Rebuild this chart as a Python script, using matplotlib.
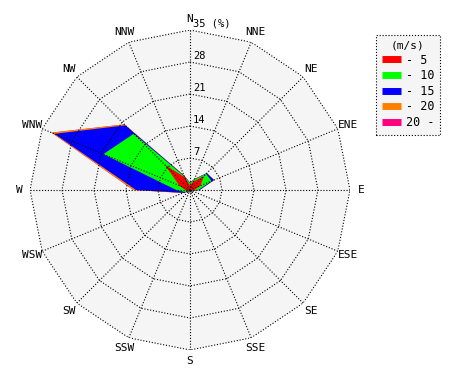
import numpy as np
import matplotlib
matplotlib.use('Agg')
import matplotlib.pyplot as plt
from matplotlib.lines import Line2D

# wind directions (clockwise from north)
directions = ["N", "NNE", "NE", "ENE", "E", "ESE", "SE", "SSE",
              "S", "SSW", "SW", "WSW", "W", "WNW", "NW", "NNW"]

# frequency (%) per speed class and direction
freq_0_5   = [1.0, 2.0, 4.3, 2.5, 1.0, 0.4, 0.3, 0.3, 0.3, 0.3, 0.3, 0.5, 1.0, 2.5, 7.8, 3.0]
freq_5_10  = [0.5, 0.5, 0.7, 2.6, 0.8, 0.1, 0.1, 0.1, 0.1, 0.1, 0.1, 0.7, 2.0, 18.0, 9.6, 0.2]
freq_10_15 = [0.1, 0.1, 0.2, 0.6, 0.3, 0.1, 0.1, 0.1, 0.1, 0.1, 0.1, 0.4, 8.8, 11.6, 2.6, 0.2]
freq_15_20 = [0.0, 0.0, 0.0, 0.0, 0.0, 0.0, 0.0, 0.0, 0.0, 0.0, 0.0, 0.1, 0.6, 0.7, 0.3, 0.1]
freq_20_up = [0.0] * 16

class_labels = ["- 5", "- 10", "- 15", "- 20", "20 -"]
class_colors = ["#ff0000", "#00ff00", "#0000ff", "#ff8000", "#ff0080"]
rings = [7, 14, 21, 28, 35]
rmax = 35

cum = np.cumsum(np.array([freq_0_5, freq_5_10, freq_10_15, freq_15_20, freq_20_up]), axis=0)

theta = np.deg2rad(np.arange(len(directions)) * 22.5)
theta_c = np.append(theta, theta[0])

fig = plt.figure(figsize=(4.7, 3.8), dpi=100)
ax = fig.add_axes([30 / 470, 30 / 380, 320 / 470, 320 / 380], projection='polar')
ax.set_theta_zero_location('N')
ax.set_theta_direction(-1)
ax.set_ylim(0, rmax)
ax.grid(False)
ax.set_xticks([])
ax.set_yticks([])
ax.spines['polar'].set_visible(False)
ax.patch.set_visible(False)

# polygon background
ax.fill(theta_c, [rmax] * len(theta_c), color="#f5f5f5", zorder=0, lw=0)

# stacked speed classes, outermost first
for i in range(len(class_labels) - 1, -1, -1):
    r = np.append(cum[i], cum[i][0])
    ax.fill(theta_c, r, color=class_colors[i], lw=0, zorder=1 + (4 - i) * 0.1)

# dotted polygon grid
dots = (0, (1, 1.6))
for rv in rings:
    ax.plot(theta_c, [rv] * len(theta_c), color="black", lw=0.8, ls=dots, zorder=3)
for t in theta:
    ax.plot([t, t], [0, rmax], color="black", lw=0.8, ls=dots, zorder=3)

# ring labels
mono = "DejaVu Sans Mono"
for rv in rings:
    txt = str(rv) if rv != rmax else f"{rv} (%)"
    ax.annotate(txt, xy=(0, rv), xytext=(2, 1), textcoords="offset points",
                ha="left", va="bottom", fontsize=7.5, family=mono, zorder=4)

# direction labels
for t, d in zip(theta, directions):
    ax.text(t, rmax * 171 / 160, d, ha="center", va="center", fontsize=8, family=mono)

handles = [Line2D([0], [0], color=c, lw=5, solid_capstyle="butt") for c in class_colors]
leg = fig.legend(handles, class_labels, title="(m/s)", loc="upper left",
                 bbox_to_anchor=(376 / 470, 1 - 35 / 380), borderaxespad=0, fancybox=False,
                 prop={"family": mono, "size": 8.5}, title_fontproperties={"family": mono, "size": 8},
                 handlelength=1.6, handletextpad=0.4, labelspacing=0.22, borderpad=0.5,
                 framealpha=1)
frame = leg.get_frame()
frame.set_facecolor("#f5f5f5")
frame.set_edgecolor("black")
frame.set_linestyle(":")
frame.set_linewidth(0.8)

plt.savefig("out.png", dpi=100)
plt.close()
